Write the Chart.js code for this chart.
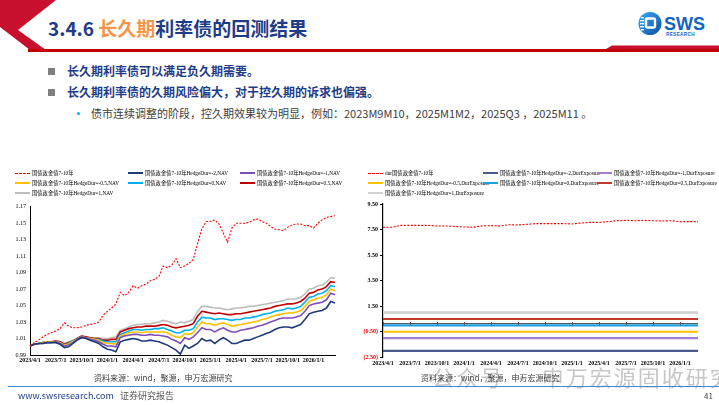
<!DOCTYPE html>
<html><head><meta charset="utf-8">
<script src="https://cdn.jsdelivr.net/npm/chart.js@4.4.1/dist/chart.umd.min.js"></script>
<style>
html,body{margin:0;padding:0;background:#fff;}
body{width:719px;height:405px;position:relative;overflow:hidden;font-family:"Noto Sans CJK SC","Noto Sans",sans-serif;}
.a{position:absolute;white-space:nowrap;}
#title{left:48px;top:13px;font-size:19px;font-weight:bold;color:#1F3C88;line-height:30px;}
#title .hl{color:#F79646;}
.sq{width:7px;height:7px;background:#7F7F7F;}
.bt{font-size:12px;font-weight:bold;color:#1F3C88;line-height:16px;}
.st{font-size:11px;color:#404040;line-height:14px;}
.dot{width:3px;height:3px;border-radius:50%;background:#00B0F0;}
.src{font-size:8px;color:#404040;line-height:10px;}
.leg{position:absolute;display:grid;grid-auto-rows:10px;font-family:"Liberation Serif","Noto Sans CJK SC",serif;font-size:5.3px;color:#000;}
.li{display:flex;align-items:center;white-space:nowrap;}
.ls{width:15px;height:0;margin-right:2px;flex:none;}
canvas{position:absolute;}
</style>
</head><body>

<svg class="a" style="left:0;top:0" width="719" height="56">
  <polygon points="0,0 56,0 18,30 46,50 30,50 0,27" fill="#C8102E"/>
  <rect x="28" y="49" width="691" height="3" fill="#C00000"/>
  <polygon points="606,49 612,45.5 719,45.5 719,49" fill="#C8102E"/>
  <defs><linearGradient id="lg" x1="0" y1="0" x2="1" y2="1"><stop offset="0" stop-color="#3FA9F5"/><stop offset="1" stop-color="#0B4EA2"/></linearGradient></defs>
  <circle cx="650" cy="23.5" r="11.5" fill="url(#lg)"/>
  <rect x="641" y="17" width="3" height="1.4" fill="#fff"/>
  <rect x="640" y="20" width="4" height="1.4" fill="#fff"/>
  <rect x="640" y="23" width="4" height="1.4" fill="#fff"/>
  <rect x="640" y="26" width="4" height="1.4" fill="#fff"/>
  <rect x="641" y="29" width="3" height="1.4" fill="#fff"/>
  <rect x="646" y="18.5" width="9" height="9" rx="1.5" fill="none" stroke="#fff" stroke-width="2.4"/>
  <text x="664" y="30" font-family="Liberation Sans, Arial" font-weight="bold" font-size="18" fill="#1463C4">SWS</text>
  <text x="666" y="35.5" font-family="Liberation Sans, Arial" font-weight="bold" font-size="4.6" fill="#1463C4" letter-spacing="0.4">RESEARCH</text>
</svg>

<div id="title" class="a">3.4.6 <span class="hl">长久期</span>利率债的回测结果</div>

<div class="a sq" style="left:48px;top:68px"></div>
<div class="a bt" style="left:67px;top:63px">长久期利率债可以满足负久期需要。</div>
<div class="a sq" style="left:48px;top:89px"></div>
<div class="a bt" style="left:67px;top:84px">长久期利率债的久期风险偏大，对于控久期的诉求也偏强。</div>
<div class="a dot" style="left:77px;top:112px"></div>
<div class="a st" style="left:91px;top:106px">债市连续调整的阶段，控久期效果较为明显，例如：2023M9M10，2025M1M2，2025Q3 ，2025M11 。</div>

<canvas id="cL" width="350" height="180" style="left:0;top:195px"></canvas>
<canvas id="cR" width="364" height="180" style="left:355px;top:195px"></canvas>

<div id="legL" class="leg" style="left:15px;top:168px;grid-template-columns:113px 112px 112px"></div>
<div id="legR" class="leg" style="left:368px;top:168px;grid-template-columns:115px 114px 120px"></div>

<div class="a" style="left:432px;top:362px;font-size:22px;line-height:28px;color:rgba(120,120,120,0.42);letter-spacing:2px">公众号 · 申万宏源固收研究</div>
<div class="a src" style="left:94px;top:373px">资料来源：wind，聚源，申万宏源研究</div>
<div class="a src" style="left:421px;top:373px">资料来源：wind，聚源，申万宏源研究</div>
<div class="a" style="left:8px;top:386px;width:711px;height:1px;background:#3D8BD9"></div>
<div class="a" style="left:18px;top:390px;font-size:9px;line-height:12px;color:#1F3C88">www.swsresearch.com <span style="color:#595959;margin-left:4px">证券研究报告</span></div>
<div class="a" style="left:704px;top:390px;font-size:8px;line-height:12px;color:#404040">41</div>

<script>
// ---------- Left chart: NAV (semi-monthly) ----------
const datesL = ["2023/4/1","2023/4/16","2023/5/1","2023/5/16","2023/6/1","2023/6/16","2023/7/1","2023/7/16","2023/8/1","2023/8/16","2023/9/1","2023/9/16","2023/10/1","2023/10/16","2023/11/1","2023/11/16","2023/12/1","2023/12/16","2024/1/1","2024/1/16","2024/2/1","2024/2/16","2024/3/1","2024/3/16","2024/4/1","2024/4/16","2024/5/1","2024/5/16","2024/6/1","2024/6/16","2024/7/1","2024/7/16","2024/8/1","2024/8/16","2024/9/1","2024/9/16","2024/10/1","2024/10/16","2024/11/1","2024/11/16","2024/12/1","2024/12/16","2025/1/1","2025/1/16","2025/2/1","2025/2/16","2025/3/1","2025/3/16","2025/4/1","2025/4/16","2025/5/1","2025/5/16","2025/6/1","2025/6/16","2025/7/1","2025/7/16","2025/8/1","2025/8/16","2025/9/1","2025/9/16","2025/10/1","2025/10/16","2025/11/1","2025/11/16","2025/12/1","2025/12/16","2026/1/1","2026/1/16","2026/2/1","2026/2/16","2026/3/1","2026/3/16"];

const bondIndexNav = [1.001,1.005,1.008,1.012,1.015,1.017,1.019,1.022,1.029,1.025,1.023,1.023,1.024,1.026,1.027,1.028,1.030,1.038,1.043,1.047,1.052,1.066,1.062,1.066,1.074,1.071,1.074,1.076,1.080,1.082,1.085,1.098,1.096,1.099,1.107,1.096,1.098,1.101,1.106,1.125,1.143,1.152,1.152,1.154,1.149,1.138,1.127,1.144,1.150,1.150,1.150,1.151,1.154,1.155,1.152,1.150,1.146,1.143,1.142,1.141,1.145,1.148,1.149,1.149,1.147,1.147,1.144,1.150,1.154,1.157,1.158,1.159];
const navHedgeM2 = [1.001,1.003,1.004,1.004,1.005,1.005,1.005,1.003,0.999,1.000,1.004,1.008,1.011,1.010,1.008,1.006,1.004,1.000,0.997,0.996,0.994,1.006,1.008,1.009,1.010,1.009,1.007,1.007,1.008,1.007,1.006,1.004,1.002,0.999,0.996,0.991,1.002,0.998,1.001,1.004,1.010,1.007,1.008,1.004,1.008,1.011,1.008,1.004,1.004,1.006,1.008,1.008,1.010,1.012,1.014,1.016,1.018,1.021,1.023,1.024,1.024,1.023,1.025,1.027,1.033,1.040,1.042,1.043,1.044,1.047,1.055,1.053];
const navHedgeM1 = [1.001,1.003,1.004,1.004,1.005,1.005,1.006,1.004,1.001,1.002,1.005,1.009,1.012,1.011,1.009,1.008,1.006,1.003,1.001,1.001,1.000,1.011,1.013,1.014,1.015,1.015,1.014,1.014,1.015,1.014,1.014,1.013,1.012,1.009,1.007,1.004,1.011,1.009,1.012,1.017,1.023,1.021,1.021,1.018,1.021,1.023,1.020,1.018,1.018,1.020,1.021,1.022,1.023,1.025,1.026,1.028,1.030,1.032,1.034,1.035,1.035,1.035,1.036,1.038,1.043,1.050,1.052,1.053,1.054,1.057,1.065,1.063];
const navHedgeM05 = [1.001,1.003,1.004,1.005,1.006,1.006,1.006,1.005,1.002,1.003,1.006,1.009,1.012,1.011,1.010,1.009,1.008,1.005,1.004,1.004,1.003,1.013,1.015,1.017,1.018,1.018,1.017,1.018,1.018,1.018,1.018,1.018,1.017,1.014,1.012,1.011,1.016,1.015,1.017,1.024,1.030,1.028,1.028,1.026,1.028,1.029,1.027,1.025,1.026,1.027,1.028,1.029,1.030,1.031,1.033,1.034,1.036,1.038,1.039,1.040,1.041,1.041,1.042,1.044,1.049,1.055,1.057,1.059,1.060,1.063,1.070,1.068];
const navHedge0 = [1.001,1.003,1.004,1.005,1.006,1.006,1.006,1.005,1.002,1.004,1.007,1.009,1.012,1.011,1.010,1.009,1.009,1.007,1.006,1.006,1.006,1.015,1.017,1.019,1.021,1.021,1.020,1.021,1.021,1.022,1.022,1.023,1.021,1.019,1.017,1.017,1.020,1.020,1.022,1.030,1.036,1.035,1.035,1.033,1.034,1.034,1.033,1.032,1.033,1.033,1.035,1.035,1.036,1.037,1.039,1.040,1.041,1.043,1.044,1.045,1.047,1.046,1.047,1.049,1.054,1.060,1.061,1.064,1.065,1.068,1.074,1.073];
const navHedgeP05 = [1.001,1.003,1.004,1.005,1.006,1.006,1.007,1.006,1.003,1.005,1.007,1.010,1.013,1.012,1.011,1.010,1.010,1.008,1.008,1.009,1.009,1.018,1.020,1.022,1.023,1.024,1.024,1.025,1.025,1.025,1.026,1.027,1.026,1.024,1.023,1.024,1.025,1.026,1.028,1.037,1.043,1.042,1.041,1.040,1.041,1.040,1.039,1.039,1.040,1.040,1.041,1.042,1.043,1.044,1.045,1.046,1.047,1.049,1.050,1.051,1.052,1.052,1.053,1.055,1.059,1.065,1.066,1.069,1.070,1.073,1.079,1.078];
const navHedgeP1 = [1.001,1.003,1.004,1.005,1.006,1.006,1.007,1.006,1.004,1.006,1.008,1.010,1.013,1.012,1.011,1.011,1.011,1.010,1.010,1.011,1.012,1.020,1.022,1.024,1.026,1.027,1.027,1.028,1.028,1.029,1.030,1.032,1.031,1.029,1.028,1.030,1.029,1.031,1.033,1.043,1.049,1.049,1.048,1.047,1.047,1.046,1.045,1.046,1.047,1.047,1.048,1.049,1.049,1.050,1.051,1.052,1.053,1.054,1.055,1.056,1.058,1.058,1.058,1.060,1.064,1.070,1.071,1.074,1.075,1.078,1.084,1.083];

const namesL = ["国债政金债7-10年","国债政金债7-10年HedgeDur=-2,NAV","国债政金债7-10年HedgeDur=-1,NAV","国债政金债7-10年HedgeDur=-0.5,NAV","国债政金债7-10年HedgeDur=0,NAV","国债政金债7-10年HedgeDur=0.5,NAV","国债政金债7-10年HedgeDur=1,NAV"];
const yRangeL = [0.99, 1.17, 0.02];

// ---------- Right chart: duration exposure (monthly) ----------
const monthsR = ["2023/4/1","2023/5/1","2023/6/1","2023/7/1","2023/8/1","2023/9/1","2023/10/1","2023/11/1","2023/12/1","2024/1/1","2024/2/1","2024/3/1","2024/4/1","2024/5/1","2024/6/1","2024/7/1","2024/8/1","2024/9/1","2024/10/1","2024/11/1","2024/12/1","2025/1/1","2025/2/1","2025/3/1","2025/4/1","2025/5/1","2025/6/1","2025/7/1","2025/8/1","2025/9/1","2025/10/1","2025/11/1","2025/12/1","2026/1/1","2026/2/1","2026/3/1"];
const durIndex = [7.68,7.68,7.83,7.83,7.83,7.83,7.78,7.78,7.75,7.70,7.68,7.78,7.81,7.78,7.88,7.86,7.91,7.96,7.96,7.96,7.96,7.94,8.01,8.06,8.06,8.12,8.19,8.22,8.19,8.22,8.19,8.17,8.19,8.12,8.12,8.12];
const expHedgeM2 = [-2,-2,-2,-2,-2,-2,-2,-2,-2,-2,-2,-2,-2,-2,-2,-2,-2,-2,-2,-2,-2,-2,-2,-2,-2,-2,-2,-2,-2,-2,-2,-2,-2,-2,-2,-2];
const expHedgeM1 = [-1,-1,-1,-1,-1,-1,-1,-1,-1,-1,-1,-1,-1,-1,-1,-1,-1,-1,-1,-1,-1,-1,-1,-1,-1,-1,-1,-1,-1,-1,-1,-1,-1,-1,-1,-1];
const expHedgeM05 = [-0.5,-0.5,-0.5,-0.5,-0.5,-0.5,-0.5,-0.5,-0.5,-0.5,-0.5,-0.5,-0.5,-0.5,-0.5,-0.5,-0.5,-0.5,-0.5,-0.5,-0.5,-0.5,-0.5,-0.5,-0.5,-0.5,-0.5,-0.5,-0.5,-0.5,-0.5,-0.5,-0.5,-0.5,-0.5,-0.5];
const expHedge0 = [0,0,0,0,0,0,0,0,0,0,0,0,0,0,0,0,0,0,0,0,0,0,0,0,0,0,0,0,0,0,0,0,0,0,0,0];
const expHedgeP05 = [0.5,0.5,0.5,0.5,0.5,0.5,0.5,0.5,0.5,0.5,0.5,0.5,0.5,0.5,0.5,0.5,0.5,0.5,0.5,0.5,0.5,0.5,0.5,0.5,0.5,0.5,0.5,0.5,0.5,0.5,0.5,0.5,0.5,0.5,0.5,0.5];
const expHedgeP1 = [1,1,1,1,1,1,1,1,1,1,1,1,1,1,1,1,1,1,1,1,1,1,1,1,1,1,1,1,1,1,1,1,1,1,1,1];

const namesR = ["dur国债政金债7-10年","国债政金债7-10年HedgeDur=-2,DurExposure","国债政金债7-10年HedgeDur=-1,DurExposure","国债政金债7-10年HedgeDur=-0.5,DurExposure","国债政金债7-10年HedgeDur=0,DurExposure","国债政金债7-10年HedgeDur=0.5,DurExposure","国债政金债7-10年HedgeDur=1,DurExposure"];
const yRangeR = [-2.5, 9.5, 2];

// ---------- drawing ----------
const isQuarter = l => /\/(1|4|7|10)\/1$/.test(l);
const serif = "Liberation Serif";

function ds(label, data, color, width, dash) {
  return {label, data, borderColor: color, backgroundColor: color, borderWidth: width,
          borderDash: dash || [], pointRadius: 0, tension: 0, fill: false};
}

const colorsL = ["#FF0000","#1F3A7A","#7E4FB8","#FFC000","#00B0F0","#C00000","#BDBDBD"];
const chartL = new Chart(document.getElementById('cL'), {
  type: 'line',
  data: {
    labels: datesL,
    datasets: [
      ds(namesL[0], bondIndexNav, colorsL[0], 1.1, [2,1.5]),
      ds(namesL[1], navHedgeM2, colorsL[1], 1.6),
      ds(namesL[2], navHedgeM1, colorsL[2], 1.6),
      ds(namesL[3], navHedgeM05, colorsL[3], 1.6),
      ds(namesL[4], navHedge0, colorsL[4], 1.6),
      ds(namesL[5], navHedgeP05, colorsL[5], 1.6),
      ds(namesL[6], navHedgeP1, colorsL[6], 1.6)
    ]
  },
  options: {
    responsive: false, animation: false, devicePixelRatio: 1,
    layout: {padding: {left: 0, right: 15, top: 11.7, bottom: 0}},
    plugins: {legend: {display: false}, tooltip: {enabled: false}},
    scales: {
      x: {
        type: 'category', offset: false,
        grid: {display: false, drawTicks: false}, border: {display: true, color: '#000', width: 1},
        ticks: {autoSkip: false, maxRotation: 0, minRotation: 0, padding: 2, color: '#000',
                font: {family: serif, size: 6, weight: 'bold'},
                callback: function(v) { const l = this.getLabelForValue(v); return isQuarter(l) ? l : ''; }},
        afterFit: s => { s.height = 20; }
      },
      y: {
        min: yRangeL[0], max: yRangeL[1],
        grid: {display: false, drawTicks: false}, border: {display: true, color: '#000', width: 1},
        ticks: {stepSize: yRangeL[2], padding: 4, color: '#000', font: {family: serif, size: 6},
                callback: v => Number(v).toFixed(2)},
        afterFit: s => { s.width = 30; }
      }
    }
  }
});

const zeroAxis = {
  id: 'zeroAxis',
  afterDatasetsDraw(chart) {
    const {ctx, chartArea, scales} = chart;
    const y0 = Math.round(scales.y.getPixelForValue(0)) - 1.5;
    ctx.save();
    ctx.strokeStyle = '#595959'; ctx.lineWidth = 1;
    ctx.beginPath(); ctx.moveTo(chartArea.left, y0); ctx.lineTo(chartArea.right, y0); ctx.stroke();
    scales.x.ticks.forEach((t, i) => {
      if (isQuarter(chart.data.labels[t.value])) {
        const x = Math.round(scales.x.getPixelForTick(i)) + 0.5;
        ctx.beginPath(); ctx.moveTo(x, y0 - 1.5); ctx.lineTo(x, y0 + 2); ctx.stroke();
      }
    });
    ctx.restore();
  }
};

const colorsR = ["#FF0000","#4A5A8C","#A37FD1","#FFC000","#1BA1E2","#C0392B","#D3D3D3"];
const chartR = new Chart(document.getElementById('cR'), {
  type: 'line',
  data: {
    labels: monthsR,
    datasets: [
      ds(namesR[0], durIndex, colorsR[0], 1.1, [2,1.5]),
      ds(namesR[1], expHedgeM2, colorsR[1], 2.2),
      ds(namesR[2], expHedgeM1, colorsR[2], 2.2),
      ds(namesR[3], expHedgeM05, colorsR[3], 2),
      ds(namesR[4], expHedge0, colorsR[4], 2.4),
      ds(namesR[5], expHedgeP05, colorsR[5], 2),
      ds(namesR[6], expHedgeP1, colorsR[6], 2.6)
    ]
  },
  options: {
    responsive: false, animation: false, devicePixelRatio: 1,
    layout: {padding: {left: 0, right: 21, top: 9, bottom: 0}},
    plugins: {legend: {display: false}, tooltip: {enabled: false}},
    scales: {
      x: {
        type: 'category', offset: false,
        grid: {display: false, drawTicks: false}, border: {display: false},
        ticks: {autoSkip: false, maxRotation: 0, minRotation: 0, padding: 3, color: '#000',
                font: {family: serif, size: 6, weight: 'bold'},
                callback: function(v) { const l = this.getLabelForValue(v); return isQuarter(l) ? l : ''; }},
        afterFit: s => { s.height = 17.7; }
      },
      y: {
        min: yRangeR[0], max: yRangeR[1],
        grid: {display: true, drawOnChartArea: false, tickLength: 3, color: '#000'},
        border: {display: true, color: '#000', width: 1.2},
        ticks: {stepSize: yRangeR[2], padding: 2, font: {family: serif, size: 6, weight: 'bold'},
                color: c => c.tick.value < 0 ? '#FF0000' : '#000',
                callback: v => v < 0 ? '(' + Math.abs(v).toFixed(2) + ')' : Number(v).toFixed(2)},
        afterFit: s => { s.width = 28; }
      }
    }
  },
  plugins: [zeroAxis]
});

function buildLegend(chart, el) {
  chart.data.datasets.forEach(d => {
    const item = document.createElement('div'); item.className = 'li';
    const sw = document.createElement('span'); sw.className = 'ls';
    const dashed = d.borderDash && d.borderDash.length;
    sw.style.borderTop = (dashed ? '1px dashed ' : '2px solid ') + d.borderColor;
    const tx = document.createElement('span'); tx.textContent = d.label;
    item.appendChild(sw); item.appendChild(tx); el.appendChild(item);
  });
}
buildLegend(chartL, document.getElementById('legL'));
buildLegend(chartR, document.getElementById('legR'));
</script>
</body></html>
